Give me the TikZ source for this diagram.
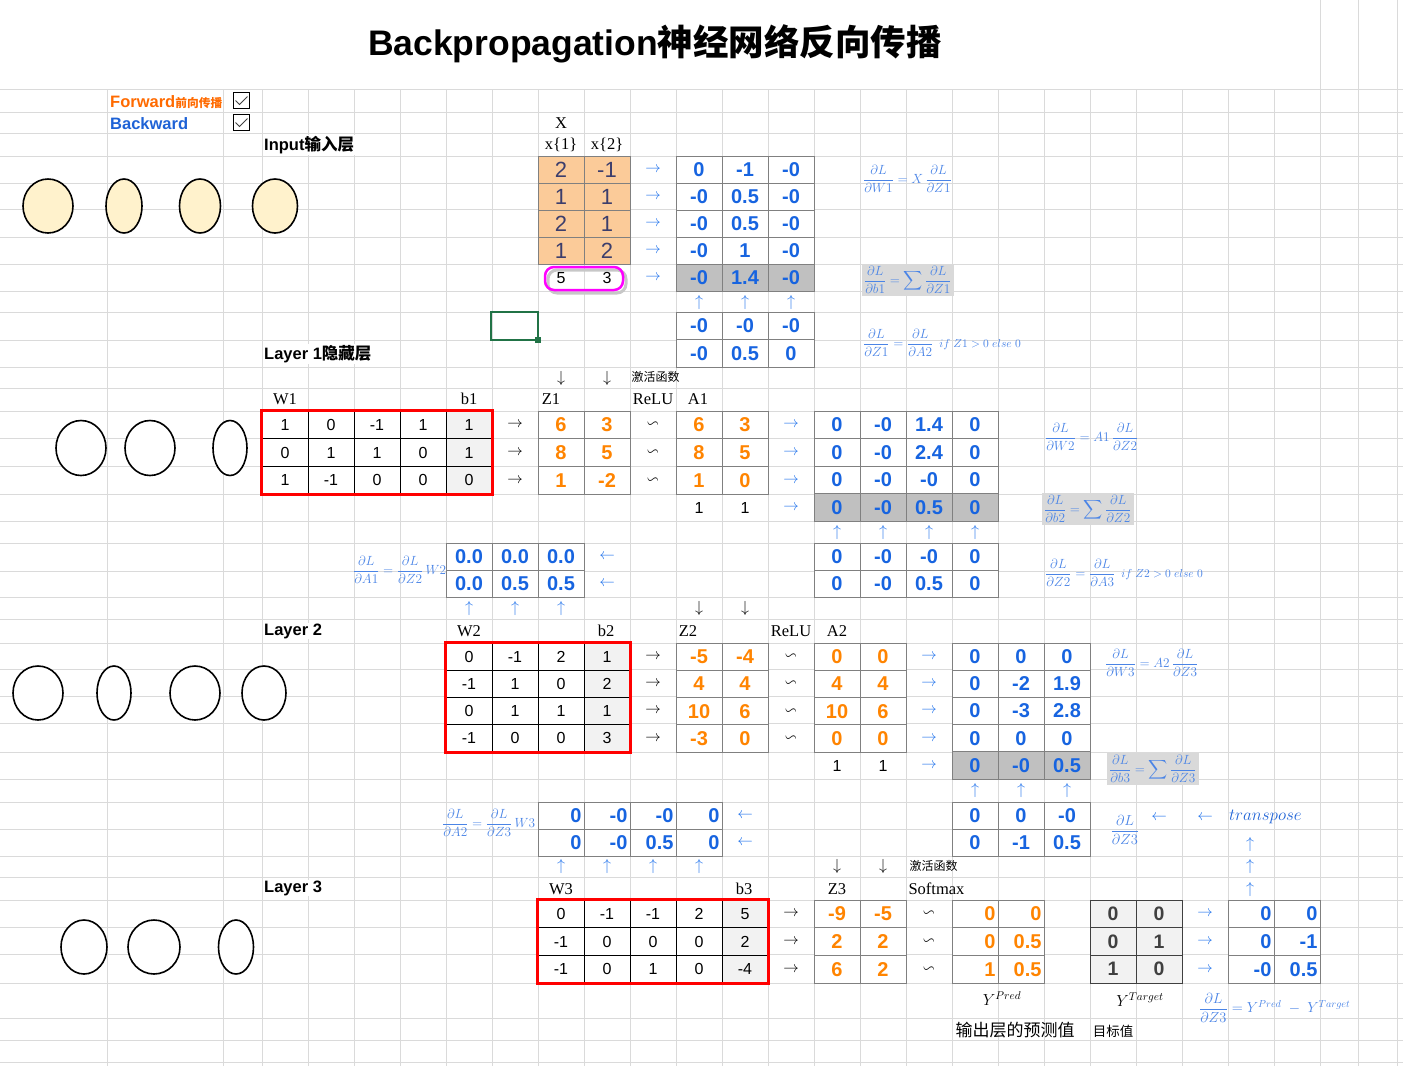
\RequirePackage{fix-cm}
\documentclass[tikz,border=0pt]{standalone}
\usepackage{amsmath,amssymb}
\usepackage{fontspec}
\setmainfont{Liberation Sans}
\newfontfamily\timesfont{Liberation Serif}
\newfontfamily\cjkfont{Noto Sans CJK SC}
\usepackage{tikz}
\usetikzlibrary{shapes.geometric,calc,positioning}
\definecolor{gridgray}{HTML}{DADADA}
\definecolor{cellgray}{HTML}{808080}
\definecolor{bwdblue}{HTML}{1764E0}
\definecolor{fwdorange}{HTML}{FF8400}
\definecolor{fwdlabel}{HTML}{FF6A00}
\definecolor{bwdlabel}{HTML}{1E62D6}
\definecolor{formblue}{HTML}{4A84E6}
\definecolor{arrowblue}{HTML}{2A78EC}
\definecolor{xfill}{HTML}{FBCB99}
\definecolor{xtext}{HTML}{3C3E6C}
\definecolor{grayrow}{HTML}{C0C0C0}
\definecolor{formgray}{HTML}{D9D9D9}
\definecolor{bfill}{HTML}{F2F2F2}
\definecolor{tgray}{HTML}{404040}
\definecolor{inputfill}{HTML}{FFF2CC}
\definecolor{selgreen}{HTML}{217346}
\definecolor{magbox}{HTML}{FF00FF}

% one block of cells: name, left x, top y, row height, style, rows
\newcommand{\celltab}[6]{%
  \foreach \rowvals [count=\ri] in {#6}{%
    \foreach \v [count=\ci] in \rowvals{%
      \node[#5, minimum height=#4] (#1-\ri-\ci)
        at ({#2+46*\ci-23},{#3+#4*\ri-#4/2}) {\v};
    }%
  }%
}

\begin{document}
\begin{tikzpicture}[
  x=1pt, y=-1pt,
  gridline/.style={draw=gridgray, line width=0.9pt},
  basecell/.style={draw=cellgray, fill=white, minimum width=46pt, inner sep=0pt, line width=0.9pt},
  gradcell/.style={basecell, text=bwdblue, font=\fontsize{20}{22}\selectfont\bfseries},
  fwdcell/.style={basecell, text=fwdorange, font=\fontsize{20}{22}\selectfont\bfseries},
  wcell/.style={basecell, draw=black, font=\fontsize{16}{18}\selectfont},
  xcell/.style={basecell, fill=xfill, text=xtext, font=\fontsize{22}{24}\selectfont},
  tcell/.style={basecell, draw=tgray, fill=bfill, text=tgray, font=\fontsize{19.5}{21}\selectfont\bfseries},
  rcell/.style={text width=41pt, align=right},
  redframe/.style={draw=red, line width=2.5pt},
  farrow/.style={font=\fontsize{15.5}{15.5}\selectfont, inner sep=0pt},
  barrow/.style={farrow, text=arrowblue},
  plainnum/.style={font=\fontsize{16}{18}\selectfont},
  varlabel/.style={font=\timesfont\fontsize{16.5}{18}\selectfont},
  cjklabel/.style={font=\cjkfont\fontsize{12}{14}\selectfont},
  layerlabel/.style={font=\fontsize{16.5}{18}\selectfont\bfseries, anchor=west, fill=white, inner sep=1pt},
  switchtext/.style={font=\fontsize{16.5}{18}\selectfont\bfseries, inner sep=0pt},
  titletext/.style={font=\fontsize{35.5}{40}\selectfont\bfseries},
  formula/.style={text=formblue, font=\fontsize{13.3}{15}\selectfont, anchor=west, inner sep=1pt},
  formbox/.style={formula, fill=formgray, inner sep=2pt},
  ylabel/.style={font=\fontsize{16}{18}\selectfont},
  neuron/.style={ellipse, draw=black, line width=1.6pt, fill=white, inner sep=0pt},
  chkbox/.style={draw=black, line width=0.9pt, fill=white, minimum size=16pt, inner sep=0pt},
  checkmark/.style={draw=tgray, line width=0.8pt}
]
  \useasboundingbox (0,0) rectangle (1403,1066);

  % sheet grid
  \foreach \gy in {89,112,133,156,183,209,237,264,291,312,340,367,388,411,438,466,494,521,543,571,597,619,643,669,696,723,752,779,802,829,856,877,900,927,954,983,1018,1040,1062}
    \draw[gridline] (0,\gy) -- (1403,\gy);
  \foreach \gx in {107,223,262,308,...,1320,1358,1397}
    \draw[gridline] (\gx,89) -- (\gx,1066);
  \foreach \gx in {1320,1358,1397}
    \draw[gridline] (\gx,0) -- (\gx,89);

  \node[titletext] (title) at (655,44) {Backpropagation{\cjkfont 神经网络反向传播}};

  % switches
  \node[switchtext, text=fwdlabel, anchor=base west] (fwd) at (110,107) {Forward{\cjkfont\fontsize{11.75}{13}\selectfont 前向传播}};
  \node[switchtext, text=bwdlabel, anchor=base west] (bwd) at (110,129) {Backward};
  \node[chkbox] (chkf) at (241.5,100.5) {};
  \node[chkbox] (chkb) at (241.5,122.5) {};
  \draw[checkmark] ($(chkf.center)+(-6,0)$) -- ++(4,4) -- ++(8,-8);
  \draw[checkmark] ($(chkb.center)+(-6,0)$) -- ++(4,4) -- ++(8,-8);

  % layers
  \node[layerlabel] (inlab) at (263,145) {Input{\cjkfont 输入层}};
  \node[layerlabel] (l1lab) at (263,354) {Layer 1{\cjkfont 隐藏层}};
  \node[layerlabel] (l2lab) at (263,631) {Layer 2};
  \node[layerlabel] (l3lab) at (263,888) {Layer 3};

  \node[neuron, fill=inputfill, minimum width=50, minimum height=54] (in1) at (48,206) {};
  \node[neuron, fill=inputfill, minimum width=36, minimum height=54] (in2) at (124,206) {};
  \node[neuron, fill=inputfill, minimum width=41, minimum height=54] (in3) at (200,206) {};
  \node[neuron, fill=inputfill, minimum width=45, minimum height=54] (in4) at (275,206) {};
  \node[neuron, minimum width=50, minimum height=55] (ha1) at (81,448) {};
  \node[neuron, minimum width=50, minimum height=55] (ha2) at (150,448) {};
  \node[neuron, minimum width=34, minimum height=55] (ha3) at (230,448) {};
  \node[neuron, minimum width=50, minimum height=54] (hb1) at (38,693) {};
  \node[neuron, minimum width=34, minimum height=54] (hb2) at (114,693) {};
  \node[neuron, minimum width=50, minimum height=54] (hb3) at (195,693) {};
  \node[neuron, minimum width=44, minimum height=54] (hb4) at (264,693) {};
  \node[neuron, minimum width=46, minimum height=54] (out1) at (84,947) {};
  \node[neuron, minimum width=52, minimum height=54] (out2) at (154,947) {};
  \node[neuron, minimum width=35, minimum height=54] (out3) at (236,947) {};

  % input block
  \node[varlabel] (xlab) at (561,123) {X};
  \node[varlabel] (x1lab) at (561,145) {x\{1\}};
  \node[varlabel] (x2lab) at (607,145) {x\{2\}};
  \celltab{X}{538}{156}{27}{xcell}{{2,-1},{1,1},{2,1},{1,2}}
  \draw[draw=black!22, line width=3pt, rounded corners=9pt] (548,270) rectangle (626,293);
  \draw[draw=magbox, line width=2.5pt, rounded corners=9pt] (545,267) rectangle (623,290);
  \node[plainnum] (sx1) at (561,278) {5};
  \node[plainnum] (sx2) at (607,278) {3};
  \celltab{dWa}{676}{156}{27}{gradcell}{{0,-1,-0},{-0,0.5,-0},{-0,0.5,-0},{-0,1,-0}}
  \celltab{dWaS}{676}{264}{27}{gradcell,fill=grayrow}{{-0,1.4,-0}}
  \celltab{dZa}{676}{312}{27.5}{gradcell}{{-0,-0,-0},{-0,0.5,0}}
  \foreach \r in {1,...,4}
    \node[barrow] (xr-\r) at (653,0 |- X-\r-1) {$\rightarrow$};
  \node[barrow] (xr-5) at (653,0 |- dWaS-1-1) {$\rightarrow$};
  \foreach \c/\cx in {1/699,2/745,3/791}
    \node[barrow, font=\fontsize{16}{16}\selectfont] (ua-\c) at (\cx,302) {$\uparrow$};
  \draw[draw=selgreen, line width=1.8pt] (491,312) rectangle (538,340);
  \fill[selgreen] (535,337) rectangle (541,343);

  \node[formula] (fwa) at (862,179) {$\dfrac{\partial L}{\partial W1}=X\,\dfrac{\partial L}{\partial Z1}$};
  \node[formbox] (fba) at (862,280) {$\dfrac{\partial L}{\partial b1}=\displaystyle\sum\dfrac{\partial L}{\partial Z1}$};
  \node[formula] (fza) at (862,343) {$\dfrac{\partial L}{\partial Z1}=\dfrac{\partial L}{\partial A2}$\hspace{6pt}{\fontsize{11.5}{13}\selectfont$if\ Z1>0\ else\ 0$}};

  % layer 1
  \foreach \c/\cx in {1/561,2/607}
    \node[farrow, font=\fontsize{16}{16}\selectfont] (da-\c) at (\cx,378) {$\downarrow$};
  \node[cjklabel, anchor=west] (act1) at (628,377) {激活函数};
  \node[varlabel] (w1lab) at (285,399) {W1};
  \node[varlabel] (b1lab) at (469,399) {b1};
  \node[varlabel] (z1lab) at (551,399) {Z1};
  \node[varlabel] (relu1) at (653,399) {ReLU};
  \node[varlabel] (a1lab) at (698,399) {A1};
  \celltab{W1}{262}{411}{27.67}{wcell}{{1,0,-1,1},{0,1,1,0},{1,-1,0,0}}
  \celltab{b1}{446}{411}{27.67}{wcell,fill=bfill}{{1},{1},{0}}
  \draw[redframe] (W1-1-1.north west) rectangle (b1-3-1.south east);
  \celltab{Z1}{538}{411}{27.67}{fwdcell}{{6,3},{8,5},{1,-2}}
  \celltab{A1}{676}{411}{27.67}{fwdcell}{{6,3},{8,5},{1,0}}
  \foreach \r in {1,2,3} {
    \node[farrow] (wz1-\r) at (515,0 |- W1-\r-1) {$\rightarrow$};
    \node[farrow] (za1-\r) at (653,0 |- Z1-\r-1) {$\backsim$};
    \node[barrow] (ag1-\r) at (791,0 |- A1-\r-1) {$\rightarrow$};
  }
  \node[plainnum] (one1a) at (699,508) {1};
  \node[plainnum] (one1b) at (745,508) {1};
  \node[barrow] (ag1-4) at (791,508) {$\rightarrow$};
  \celltab{dWb}{814}{411}{27.5}{gradcell}{{0,-0,1.4,0},{0,-0,2.4,0},{0,-0,-0,0}}
  \celltab{dWbS}{814}{493.5}{27.5}{gradcell,fill=grayrow}{{0,-0,0.5,0}}
  \foreach \c/\cx in {1/837,2/883,3/929,4/975}
    \node[barrow, font=\fontsize{16}{16}\selectfont] (ub-\c) at (\cx,532) {$\uparrow$};
  \celltab{dZb}{814}{543}{27}{gradcell}{{0,-0,-0,0},{0,-0,0.5,0}}
  \node[formula] (fwb) at (1044,437) {$\dfrac{\partial L}{\partial W2}=A1\,\dfrac{\partial L}{\partial Z2}$};
  \node[formbox] (fbb) at (1042,509) {$\dfrac{\partial L}{\partial b2}=\displaystyle\sum\dfrac{\partial L}{\partial Z2}$};
  \node[formula] (fzb) at (1044,573) {$\dfrac{\partial L}{\partial Z2}=\dfrac{\partial L}{\partial A3}$\hspace{6pt}{\fontsize{11.5}{13}\selectfont$if\ Z2>0\ else\ 0$}};

  \celltab{dAa}{446}{543}{27}{gradcell}{{0.0,0.0,0.0},{0.0,0.5,0.5}}
  \node[formula] (faa) at (352,570) {$\dfrac{\partial L}{\partial A1}=\dfrac{\partial L}{\partial Z2}\,W2$};
  \foreach \r in {1,2}
    \node[barrow] (la-\r) at (607,0 |- dAa-\r-1) {$\leftarrow$};
  \foreach \c/\cx in {1/469,2/515,3/561}
    \node[barrow, font=\fontsize{16}{16}\selectfont] (uc-\c) at (\cx,608) {$\uparrow$};
  \foreach \c/\cx in {1/699,2/745}
    \node[farrow, font=\fontsize{16}{16}\selectfont] (db-\c) at (\cx,608) {$\downarrow$};

  % layer 2
  \node[varlabel] (w2lab) at (469,631) {W2};
  \node[varlabel] (b2lab) at (606,631) {b2};
  \node[varlabel] (z2lab) at (688,631) {Z2};
  \node[varlabel] (relu2) at (791,631) {ReLU};
  \node[varlabel] (a2lab) at (837,631) {A2};
  \celltab{W2}{446}{643}{27.25}{wcell}{{0,-1,2},{-1,1,0},{0,1,1},{-1,0,0}}
  \celltab{b2}{584}{643}{27.25}{wcell,fill=bfill}{{1},{2},{1},{3}}
  \draw[redframe] (W2-1-1.north west) rectangle (b2-4-1.south east);
  \celltab{Z2}{676}{643}{27.25}{fwdcell}{{-5,-4},{4,4},{10,6},{-3,0}}
  \celltab{A2}{814}{643}{27.25}{fwdcell}{{0,0},{4,4},{10,6},{0,0}}
  \foreach \r in {1,...,4} {
    \node[farrow] (wz2-\r) at (653,0 |- W2-\r-1) {$\rightarrow$};
    \node[farrow] (za2-\r) at (791,0 |- Z2-\r-1) {$\backsim$};
    \node[barrow] (ag2-\r) at (929,0 |- A2-\r-1) {$\rightarrow$};
  }
  \node[plainnum] (one2a) at (837,766) {1};
  \node[plainnum] (one2b) at (883,766) {1};
  \node[barrow] (ag2-5) at (929,766) {$\rightarrow$};
  \celltab{dWc}{952}{643}{27.2}{gradcell}{{0,0,0},{0,-2,1.9},{0,-3,2.8},{0,0,0}}
  \celltab{dWcS}{952}{751.8}{27.2}{gradcell,fill=grayrow}{{0,-0,0.5}}
  \foreach \c/\cx in {1/975,2/1021,3/1067}
    \node[barrow, font=\fontsize{16}{16}\selectfont] (ud-\c) at (\cx,790) {$\uparrow$};
  \celltab{dZc}{952}{802}{27}{gradcell}{{0,0,-0},{0,-1,0.5}}
  \node[formula] (fwc) at (1104,663) {$\dfrac{\partial L}{\partial W3}=A2\,\dfrac{\partial L}{\partial Z3}$};
  \node[formbox] (fbc) at (1107,769) {$\dfrac{\partial L}{\partial b3}=\displaystyle\sum\dfrac{\partial L}{\partial Z3}$};
  \node[formula, anchor=center, font=\fontsize{14.5}{16}\selectfont] (fzc) at (1125,830) {$\dfrac{\partial L}{\partial Z3}$};
  \node[barrow] (lt-1) at (1159,818) {$\leftarrow$};
  \node[barrow] (lt-2) at (1205,818) {$\leftarrow$};
  \node[formula, text=bwdlabel, font=\fontsize{17}{19}\selectfont] (trans) at (1228,817) {$transpose$};
  \foreach \k/\ky in {1/844,2/866,3/889}
    \node[barrow, font=\fontsize{16}{16}\selectfont] (ut-\k) at (1250,\ky) {$\uparrow$};

  \celltab{dAb}{538}{802}{27}{gradcell,rcell}{{0,-0,-0,0},{0,-0,0.5,0}}
  \node[formula] (fab) at (441,823) {$\dfrac{\partial L}{\partial A2}=\dfrac{\partial L}{\partial Z3}\,W3$};
  \foreach \r in {1,2}
    \node[barrow] (lb-\r) at (745,0 |- dAb-\r-1) {$\leftarrow$};
  \foreach \c/\cx in {1/561,2/607,3/653,4/699}
    \node[barrow, font=\fontsize{16}{16}\selectfont] (ue-\c) at (\cx,866) {$\uparrow$};
  \foreach \c/\cx in {1/837,2/883}
    \node[farrow, font=\fontsize{16}{16}\selectfont] (dc-\c) at (\cx,866) {$\downarrow$};
  \node[cjklabel, anchor=west] (act2) at (906,866) {激活函数};

  % layer 3
  \node[varlabel] (w3lab) at (561,889) {W3};
  \node[varlabel] (b3lab) at (744,889) {b3};
  \node[varlabel] (z3lab) at (837,889) {Z3};
  \node[varlabel, anchor=west] (smax) at (905,889) {Softmax};
  \celltab{W3}{538}{900}{27.67}{wcell}{{0,-1,-1,2},{-1,0,0,0},{-1,0,1,0}}
  \celltab{b3}{722}{900}{27.67}{wcell,fill=bfill}{{5},{2},{-4}}
  \draw[redframe] (W3-1-1.north west) rectangle (b3-3-1.south east);
  \celltab{Z3}{814}{900}{27.67}{fwdcell}{{-9,-5},{2,2},{6,2}}
  \celltab{Yp}{952}{900}{27.67}{fwdcell,rcell}{{0,0},{0,0.5},{1,0.5}}
  \celltab{Yt}{1090}{900}{27.67}{tcell}{{0,0},{0,1},{1,0}}
  \celltab{dZd}{1228}{900}{27.67}{gradcell,rcell}{{0,0},{0,-1},{-0,0.5}}
  \foreach \r in {1,2,3} {
    \node[farrow] (wz3-\r) at (791,0 |- W3-\r-1) {$\rightarrow$};
    \node[farrow] (za3-\r) at (929,0 |- Z3-\r-1) {$\backsim$};
    \node[barrow] (tg-\r) at (1205,0 |- Yt-\r-1) {$\rightarrow$};
  }
  \node[ylabel] (yplab) at (1002,999) {$Y^{Pred}$};
  \node[ylabel] (ytlab) at (1140,1000) {$Y^{Target}$};
  \node[formula, font=\fontsize{14.5}{16}\selectfont] (fzd) at (1198,1008) {$\dfrac{\partial L}{\partial Z3}=Y^{Pred}\;-\;Y^{Target}$};
  \node[cjklabel, font=\cjkfont\fontsize{17}{19}\selectfont] (outlab) at (1015,1030) {输出层的预测值};
  \node[cjklabel, font=\cjkfont\fontsize{13.5}{15}\selectfont] (tgtlab) at (1113,1031) {目标值};
\end{tikzpicture}
\end{document}
